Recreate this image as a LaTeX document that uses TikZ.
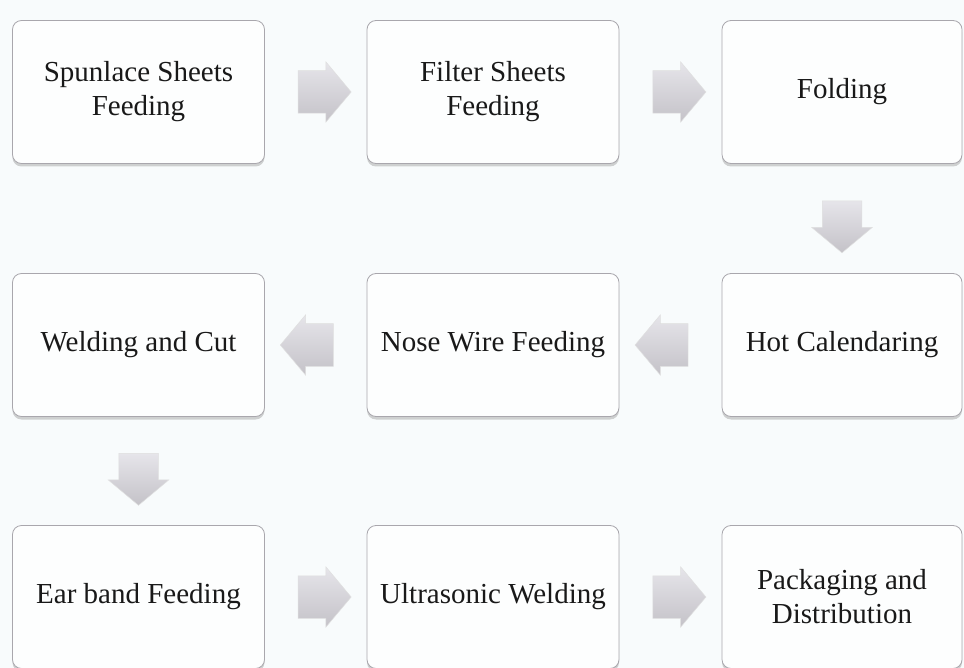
\documentclass[tikz,border=0pt]{standalone}
\usepackage{fontspec}
\setmainfont{Liberation Serif}
\usepackage{xcolor}
\definecolor{pagebg}{HTML}{F8FBFC}
\definecolor{boxbg}{HTML}{FDFEFE}
\definecolor{boxborder}{HTML}{A9A7AD}
\definecolor{arrowtop}{HTML}{E6E5EA}
\definecolor{arrowbot}{HTML}{C4C2C8}
\usetikzlibrary{shapes.arrows,shadows,calc}

\begin{document}
\begin{tikzpicture}[x=1pt,y=-1pt,
                    box/.style={draw=boxborder,fill=boxbg,rounded corners=9pt,line width=0.8pt,
                                minimum width=252pt,minimum height=143pt,align=center,
                                font=\fontsize{29}{34}\selectfont,text=black!90,
                                drop shadow={shadow xshift=0pt,shadow yshift=-3pt,opacity=0.35,fill=gray}},
                    flow/.style={single arrow,draw=gray!25,line width=0.5pt,top color=arrowtop,bottom color=arrowbot,
                                 inner xsep=0pt,inner ysep=21pt,single arrow head extend=9pt,
                                 single arrow tip angle=100,minimum height=53pt},
                    flowdown/.style={flow,inner ysep=19.5pt,single arrow head extend=10.5pt,minimum height=52pt,rotate=-90}]
  \useasboundingbox (0,0) rectangle (964,668);
  \fill[pagebg] (0,0) rectangle (964,668);

  \node[box] (spun) at (138.5,92) {Spunlace Sheets\\Feeding};
  \node[box] (filter) at (493,92) {Filter Sheets\\Feeding};
  \node[box,minimum width=240pt] (fold) at (842,92) {Folding};
  \node[box] (weld) at (138.5,345) {Welding and Cut};
  \node[box] (nose) at (493,345) {Nose Wire Feeding};
  \node[box,minimum width=240pt] (hot) at (842,345) {Hot Calendaring};
  \node[box] (ear) at (138.5,597) {Ear band Feeding};
  \node[box] (ultra) at (493,597) {Ultrasonic Welding};
  \node[box,minimum width=240pt] (pack) at (842,597) {Packaging and\\Distribution};

  \node[flow] (a1) at ($(spun.east)!0.5!(filter.west)$) {};
  \node[flow] (a2) at ($(filter.east)!0.5!(fold.west)$) {};
  \node[flowdown] (a3) at ($(fold.south)!0.5!(hot.north)$) {};
  \node[flow,rotate=180] (a4) at ($(hot.west)!0.5!(nose.east)$) {};
  \node[flow,rotate=180] (a5) at ($(nose.west)!0.5!(weld.east)$) {};
  \node[flowdown] (a6) at ($(weld.south)!0.5!(ear.north)$) {};
  \node[flow] (a7) at ($(ear.east)!0.5!(ultra.west)$) {};
  \node[flow] (a8) at ($(ultra.east)!0.5!(pack.west)$) {};
\end{tikzpicture}
\end{document}
